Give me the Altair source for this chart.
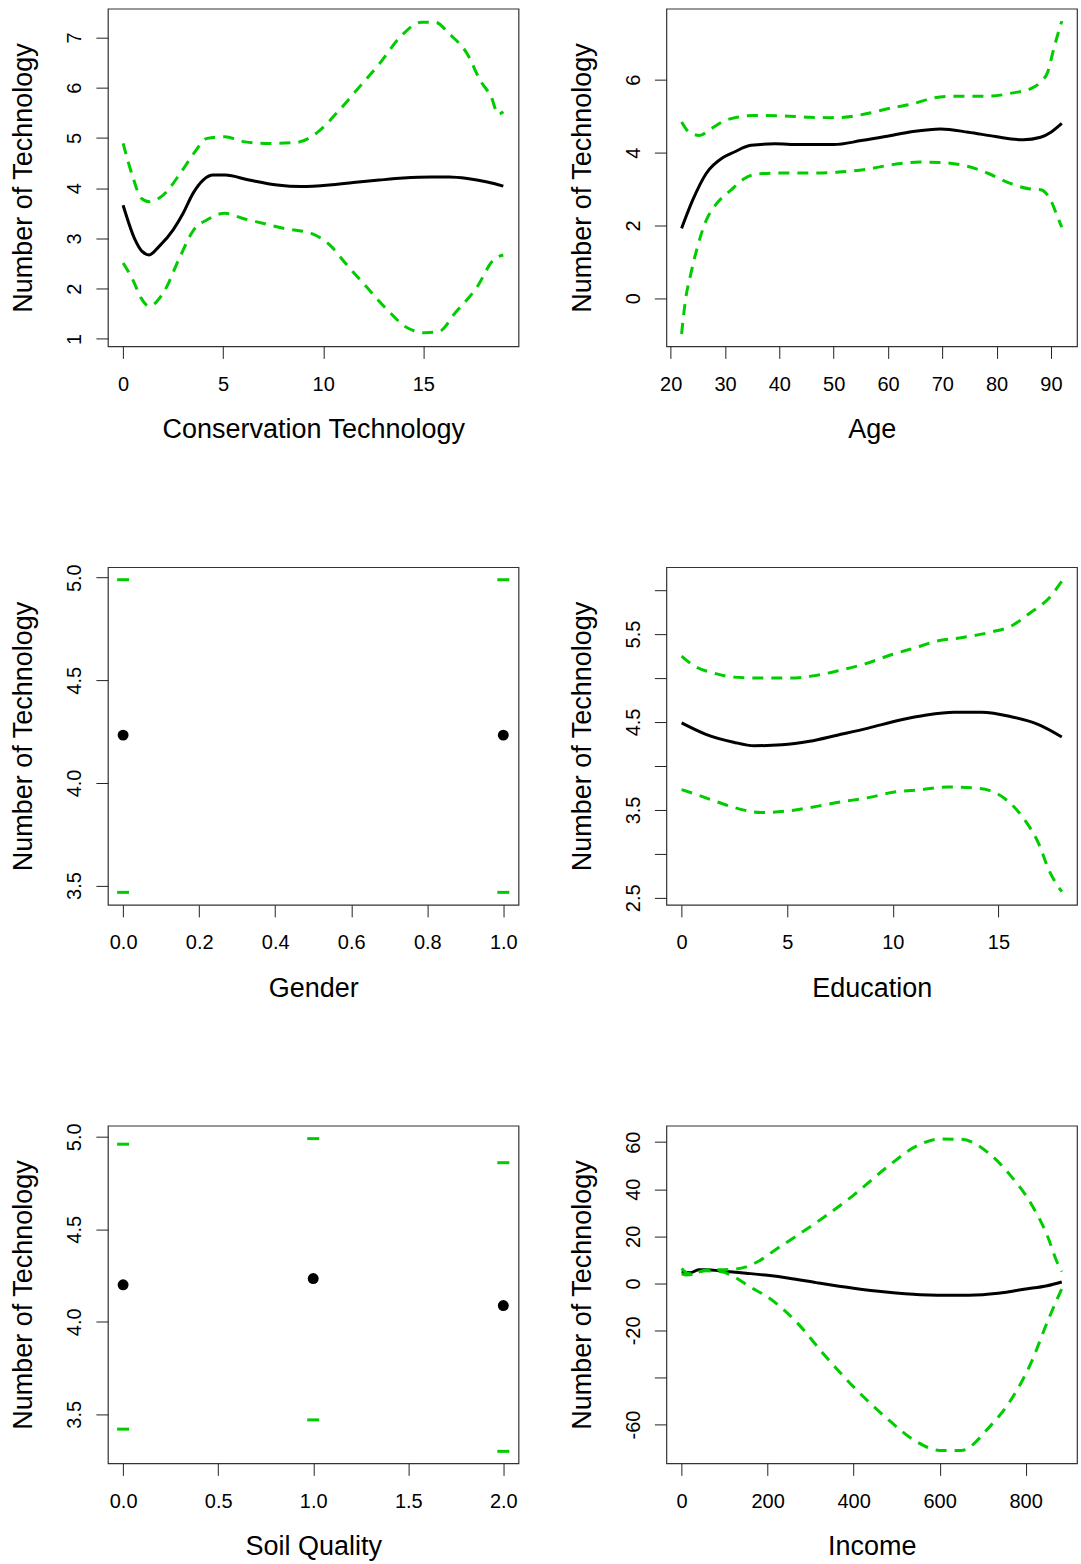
import altair as alt
import pandas as pd

# ---------------- data ----------------
# Conservation Technology
cons_fit_x = [0, 0.6, 0.95, 1.3, 1.8, 2.5, 3.0, 3.5, 4.0, 4.5, 5.1, 6.3, 7.7, 8.9, 10.3, 11.5, 12.8, 14.0, 15.4, 16.3, 17.2, 18.2, 19.0]
cons_fit_y = [3.66, 2.97, 2.74, 2.67, 2.84, 3.17, 3.5, 3.9, 4.16, 4.26, 4.26, 4.16, 4.06, 4.03, 4.06, 4.11, 4.16, 4.2, 4.22, 4.22, 4.19, 4.12, 4.04]
cons_up_x = [0, 0.48, 0.9, 1.3, 2.0, 2.85, 3.53, 4.2, 5.08, 6.1, 7.3, 8.7, 9.74, 10.8, 11.8, 12.8, 13.9, 14.9, 15.6, 16.3, 17.2, 17.85, 18.4, 18.75, 19.0]
cons_up_y = [4.89, 4.23, 3.8, 3.73, 3.86, 4.29, 4.69, 4.99, 5.02, 4.92, 4.89, 4.91, 5.12, 5.55, 6.01, 6.47, 7.03, 7.3, 7.3, 7.07, 6.67, 6.14, 5.81, 5.47, 5.52]
cons_lo_x = [0, 0.48, 0.9, 1.3, 2.0, 2.85, 3.53, 4.2, 5.08, 5.95, 6.98, 8.0, 9.4, 10.4, 11.1, 12.15, 13.2, 14.2, 15.1, 15.8, 16.6, 17.7, 18.5, 19.0]
cons_lo_y = [2.51, 2.18, 1.81, 1.65, 1.91, 2.64, 3.17, 3.37, 3.5, 3.4, 3.3, 3.2, 3.1, 2.84, 2.51, 2.04, 1.58, 1.22, 1.12, 1.15, 1.52, 2.04, 2.57, 2.67]

# Age
age_fit_x = [22, 24, 26.5, 29.7, 31.6, 34.8, 39.2, 43.7, 50, 55.1, 59.5, 64.6, 69.7, 74.8, 79.8, 84.9, 88.1, 90, 92]
age_fit_y = [1.92, 2.68, 3.42, 3.87, 4.01, 4.2, 4.24, 4.22, 4.22, 4.33, 4.44, 4.58, 4.65, 4.56, 4.44, 4.35, 4.42, 4.56, 4.8]
age_up_x = [22, 23.4, 25.3, 27.2, 29.7, 32.2, 35.4, 40.5, 45.6, 49.4, 51.9, 56.4, 60.8, 64.6, 68.4, 72.2, 78.6, 83, 86.2, 88.1, 89.4, 90.6, 92]
age_up_y = [4.84, 4.56, 4.47, 4.63, 4.86, 4.97, 5.02, 5.01, 4.97, 4.96, 4.97, 5.08, 5.23, 5.34, 5.5, 5.55, 5.55, 5.64, 5.75, 5.94, 6.21, 6.9, 7.61]
age_lo_x = [22, 22.7, 23.7, 24.9, 26.5, 28.4, 31, 33.5, 36.1, 40.5, 46.8, 50.6, 56.4, 60.8, 65.9, 69.7, 74.8, 78.6, 82.4, 86.2, 88.1, 90, 91, 92]
age_lo_y = [-0.98, -0.06, 0.67, 1.4, 2.13, 2.59, 2.96, 3.28, 3.42, 3.44, 3.44, 3.46, 3.55, 3.67, 3.74, 3.73, 3.62, 3.42, 3.16, 3.0, 2.98, 2.68, 2.32, 1.95]

# Gender (factor)
gen_x = [0, 1]
gen_fit = [4.233, 4.233]
gen_up = [4.99, 4.99]
gen_lo = [3.467, 3.467]

# Education
edu_fit_x = [0, 1.15, 2.46, 3.44, 4.75, 6.06, 7.37, 8.84, 10.3, 11.6, 12.9, 14.2, 15.6, 16.9, 18]
edu_fit_y = [4.49, 4.36, 4.27, 4.23, 4.24, 4.28, 4.35, 4.43, 4.52, 4.58, 4.61, 4.61, 4.56, 4.47, 4.33]
edu_up_x = [0, 0.65, 1.47, 2.46, 3.77, 5.08, 6.39, 7.53, 8.68, 10, 11, 12.1, 13.3, 14.6, 15.6, 16.5, 17.4, 18]
edu_up_y = [5.25, 5.13, 5.06, 5.01, 5.0, 5.0, 5.03, 5.09, 5.16, 5.27, 5.34, 5.42, 5.46, 5.52, 5.59, 5.74, 5.91, 6.1]
edu_lo_x = [0, 0.65, 1.47, 2.46, 3.77, 5.08, 6.39, 7.53, 8.84, 10, 11.3, 12.6, 13.8, 14.6, 15.4, 16.2, 16.9, 17.4, 18]
edu_lo_y = [3.73, 3.68, 3.61, 3.53, 3.47, 3.49, 3.54, 3.59, 3.64, 3.7, 3.73, 3.76, 3.75, 3.72, 3.61, 3.4, 3.12, 2.81, 2.57]

# Soil Quality (factor)
soil_x = [0, 1, 2]
soil_fit = [4.20, 4.234, 4.088]
soil_up = [4.96, 4.99, 4.86]
soil_lo = [3.42, 3.47, 3.30]

# Income
inc_fit_x = [0, 20, 40, 60, 88, 150, 200, 250, 313, 400, 475, 555, 635, 700, 750, 796, 850, 884]
inc_fit_y = [4.8, 4.5, 5.8, 5.8, 5.3, 4.3, 3.4, 2.2, 0.3, -2.1, -3.7, -4.8, -5.1, -4.8, -3.9, -2.5, -1.0, 0.6]
inc_up_x = [0, 12, 25, 40, 60, 90, 120, 150, 180, 220, 270, 330, 400, 475, 548, 600, 650, 716, 764, 812, 852, 872, 884]
inc_up_y = [6.3, 4.5, 4.0, 4.8, 5.8, 5.8, 6.0, 7.0, 9.5, 14.5, 20.5, 28, 37.5, 49, 58.5, 61.3, 61.2, 55, 46, 34, 19.5, 9.5, 5.0]
inc_lo_x = [0, 12, 25, 40, 60, 90, 120, 160, 200, 270, 330, 400, 475, 548, 600, 650, 716, 764, 812, 852, 872, 884]
inc_lo_y = [4.0, 3.5, 3.8, 5.0, 5.3, 5.0, 3.0, -1.6, -5.8, -17, -30, -44, -57, -67.5, -71, -71, -61, -50, -34, -15.7, -7.2, -2.3]

YTITLE = "Number of Technology"

# ---------------- styling ----------------
FONT = "Liberation Sans"
GREEN = "#00CC00"
W, H = 411, 338
LINE_W = 3
DASH = [11, 8]


def x_axis(title, values, label_expr):
    return alt.Axis(
        title=title, values=values, labelExpr=label_expr, grid=False, domain=False,
        tickSize=12, tickColor="#222", tickWidth=1,
        labelFont=FONT, labelFontSize=20, labelColor="black",
        labelPadding=32, labelBaseline="alphabetic", labelAlign="center", labelAngle=0,
        labelFlush=False, labelOverlap=False, labelBound=False,
        titleFont=FONT, titleFontSize=27, titleFontWeight="normal", titleColor="black",
        titleX=W / 2, titleY=91.5, titleAlign="center", titleBaseline="alphabetic", titleAngle=0,
    )


def y_axis(values, label_expr):
    return alt.Axis(
        title=YTITLE, values=values, labelExpr=label_expr, grid=False, domain=False,
        tickSize=12, tickColor="#222", tickWidth=1,
        labelFont=FONT, labelFontSize=20, labelColor="black",
        labelPadding=15, labelBaseline="alphabetic", labelAlign="center", labelAngle=270,
        labelFlush=False, labelOverlap=False, labelBound=False,
        titleFont=FONT, titleFontSize=27, titleFontWeight="normal", titleColor="black",
        titleX=-76, titleY=H / 2, titleAlign="center", titleBaseline="alphabetic", titleAngle=270,
    )


PLAIN = "'' + datum.value"
ONE_DEC = "format(datum.value, '.1f')"


def enc(xdom, ydom, xt, xv, xe, yv, ye):
    return dict(
        x=alt.X("x:Q", scale=alt.Scale(domain=xdom, nice=False, zero=False), axis=x_axis(xt, xv, xe)),
        y=alt.Y("y:Q", scale=alt.Scale(domain=ydom, nice=False, zero=False), axis=y_axis(yv, ye)),
    )


def curve_panel(fx, fy, ux, uy, lx, ly, xdom, ydom, xt, xv, xe, yv, ye):
    e = enc(xdom, ydom, xt, xv, xe, yv, ye)
    fit = alt.Chart(pd.DataFrame({"x": fx, "y": fy})).mark_line(
        color="black", strokeWidth=LINE_W, interpolate="monotone"
    ).encode(**e)
    up = alt.Chart(pd.DataFrame({"x": ux, "y": uy})).mark_line(
        color=GREEN, strokeWidth=LINE_W, strokeDash=DASH, interpolate="monotone"
    ).encode(**e)
    lo = alt.Chart(pd.DataFrame({"x": lx, "y": ly})).mark_line(
        color=GREEN, strokeWidth=LINE_W, strokeDash=DASH, interpolate="monotone"
    ).encode(**e)
    return alt.layer(fit, up, lo).properties(width=W, height=H)


def factor_panel(xs, fit, upv, lov, xdom, ydom, xt, xv, xe, yv, ye):
    e = enc(xdom, ydom, xt, xv, xe, yv, ye)
    pts = alt.Chart(pd.DataFrame({"x": xs, "y": fit})).mark_circle(
        color="black", size=120, opacity=1
    ).encode(**e)
    bands = pd.DataFrame({"x": xs + xs, "y": upv + lov})
    seg = alt.Chart(bands).mark_point(
        shape="stroke", size=144, strokeWidth=3, color=GREEN, filled=False, opacity=1
    ).encode(**e)
    return alt.layer(seg, pts).properties(width=W, height=H)


p1 = curve_panel(cons_fit_x, cons_fit_y, cons_up_x, cons_up_y, cons_lo_x, cons_lo_y,
                 [-0.76, 19.76], [0.85, 7.57], "Conservation Technology",
                 [0, 5, 10, 15], PLAIN, [1, 2, 3, 4, 5, 6, 7], PLAIN)
p2 = curve_panel(age_fit_x, age_fit_y, age_up_x, age_up_y, age_lo_x, age_lo_y,
                 [19.2, 94.8], [-1.32, 7.95], "Age",
                 [20, 30, 40, 50, 60, 70, 80, 90], PLAIN, [0, 2, 4, 6], PLAIN)
p3 = factor_panel(gen_x, gen_fit, gen_up, gen_lo,
                  [-0.04, 1.04], [3.406, 5.051], "Gender",
                  [0, 0.2, 0.4, 0.6, 0.8, 1.0], ONE_DEC, [3.5, 4.0, 4.5, 5.0], ONE_DEC)
p4 = curve_panel(edu_fit_x, edu_fit_y, edu_up_x, edu_up_y, edu_lo_x, edu_lo_y,
                 [-0.72, 18.72], [2.42, 6.26], "Education",
                 [0, 5, 10, 15], PLAIN, [2.5, 3.0, 3.5, 4.0, 4.5, 5.0, 5.5, 6.0],
                 "round(datum.value * 2) % 2 == 1 ? format(datum.value, '.1f') : ''")
p5 = factor_panel(soil_x, soil_fit, soil_up, soil_lo,
                  [-0.08, 2.08], [3.235, 5.06], "Soil Quality",
                  [0, 0.5, 1.0, 1.5, 2.0], ONE_DEC, [3.5, 4.0, 4.5, 5.0], ONE_DEC)
p6 = curve_panel(inc_fit_x, inc_fit_y, inc_up_x, inc_up_y, inc_lo_x, inc_lo_y,
                 [-35.4, 919.4], [-76.5, 67], "Income",
                 [0, 200, 400, 600, 800], PLAIN, [-60, -40, -20, 0, 20, 40, 60],
                 "datum.value == -40 ? '' : '' + datum.value")

chart = alt.concat(
    p1, p2, p3, p4, p5, p6, columns=2, bounds="flush",
    spacing={"row": 221, "column": 148},
).properties(
    padding={"left": 9, "top": 7, "right": 3, "bottom": 3},
    background="white",
).configure_view(stroke="#333", strokeWidth=1.2)

chart.save("out.html", embed_options={"renderer": "svg", "actions": False})
